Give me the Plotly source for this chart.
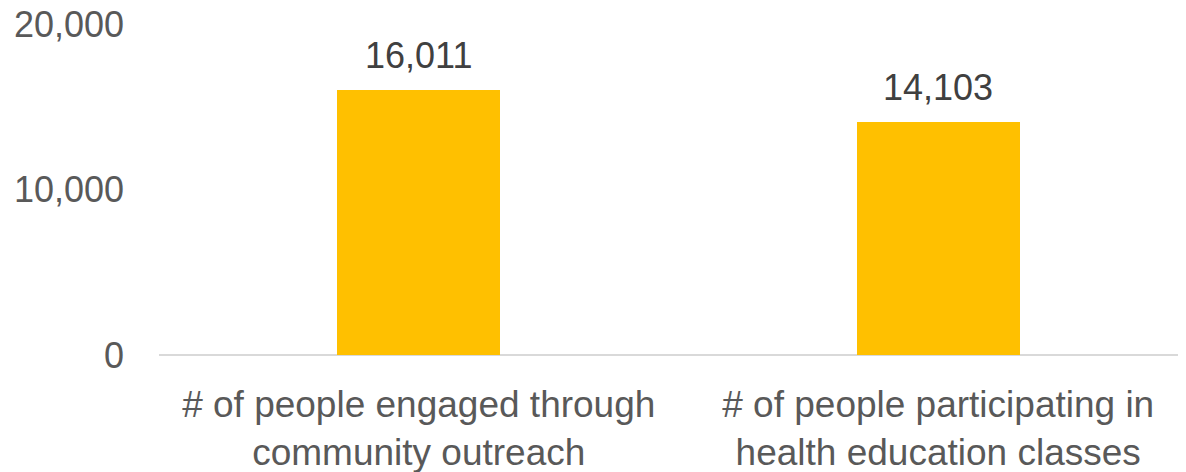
import plotly.graph_objects as go

categories = ["# of people engaged through<br>community outreach",
              "# of people participating in<br>health education classes"]
values = [16011, 14103]
y_ticks = [0, 10000, 20000]
y_tick_labels = ["0", "10,000", "20,000"]

BAR = "#FFC000"
FONT = "Liberation Sans, Arial, sans-serif"

fig = go.Figure()
fig.add_trace(go.Bar(
    x=[0, 1], y=values, marker=dict(color=BAR, line=dict(width=0)),
    width=0.314, hoverinfo="skip",
))
for i, v in enumerate(values):
    fig.add_annotation(x=i, y=v, text=f"{v:,}", showarrow=False,
                       yanchor="bottom", yshift=12,
                       font=dict(family=FONT, size=36, color="#404040"))

# page body has an 8px default margin, so the figure is sized/offset to compensate
fig.update_layout(
    width=1178, height=464,
    margin=dict(l=151, r=0, t=16, b=117, autoexpand=False),
    paper_bgcolor="white", plot_bgcolor="white",
    showlegend=False,
    font=dict(family=FONT, color="#595959"),
    bargap=0,
)
fig.update_xaxes(
    range=[-0.5, 1.477], tickvals=[0, 1], ticktext=categories,
    showgrid=False, zeroline=False, showline=False, ticks="",
    tickfont=dict(size=37, color="#595959", family=FONT),
    ticklabelstandoff=24, automargin=False, ticklabeloverflow="allow",
)
fig.update_yaxes(
    range=[0, 20000], tickvals=y_ticks, ticktext=y_tick_labels,
    showgrid=False, zeroline=True, zerolinecolor="#D9D9D9", zerolinewidth=2,
    showline=False, ticks="",
    tickfont=dict(size=36, color="#595959", family=FONT),
    ticklabelstandoff=34, automargin=False, ticklabeloverflow="allow",
)
fig.write_html("out.html")
